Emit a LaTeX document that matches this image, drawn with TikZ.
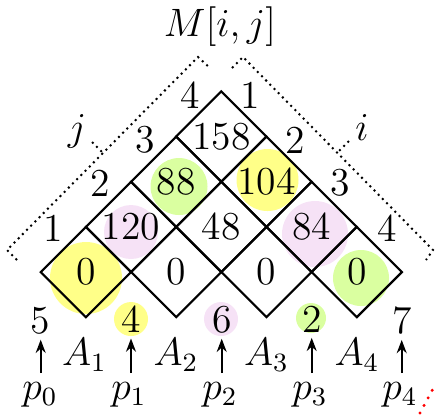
\documentclass[tikz,border=0pt]{standalone}
\usetikzlibrary{shapes.geometric,arrows.meta}
\definecolor{cy}{RGB}{255,255,136}
\definecolor{cg}{RGB}{218,255,160}
\definecolor{cp}{RGB}{246,226,246}
\begin{document}
\begin{tikzpicture}[x=0.30303pt,y=-0.30303pt,
  every node/.style={inner sep=0pt,outer sep=0pt,font=\fontsize{12}{14}\selectfont},
  cell/.style={diamond,draw,line width=0.65pt,minimum width=27.36pt,minimum height=27.36pt,inner sep=0pt},
  arr/.style={-{Stealth[length=4pt,width=3pt]},line width=0.65pt,shorten <=2.9pt,shorten >=1.7pt},
  brk/.style={line width=0.6pt,dash pattern=on 0.6pt off 1.2pt}]
\useasboundingbox (0,0) rectangle (435,415);
% highlight discs
\fill[cy] (86,278) circle (36);
\fill[cp] (131,232) circle (27);
\fill[cg] (179,186.5) circle (28.5);
\fill[cy] (267.5,180) circle (31);
\fill[cp] (315,234) circle (33);
\fill[cg] (361,278) circle (28);
\fill[cy] (131,319) circle (17);
\fill[cp] (221,319) circle (17);
\fill[cg] (311,318) circle (15);
% cells
\node[cell] (c11) at (85.9,272) {0};
\node[cell] (c22) at (176.2,272) {0};
\node[cell] (c33) at (266.5,272) {0};
\node[cell] (c44) at (356.8,272) {0};
\node[cell] (c12) at (131.0,226.9) {120};
\node[cell] (c23) at (221.3,226.9) {48};
\node[cell] (c34) at (311.6,226.9) {84};
\node[cell] (c13) at (176.2,181.7) {88};
\node[cell] (c24) at (266.5,181.7) {104};
\node[cell] (c14) at (221.3,136.5) {158};
% index labels
\node (j1) at (53,228) {1};
\node (j2) at (100,183) {2};
\node (j3) at (145,140) {3};
\node (j4) at (190,95) {4};
\node (i1) at (250,95) {1};
\node (i2) at (295,140) {2};
\node (i3) at (340,183) {3};
\node (i4) at (387,228) {4};
\node (jl) at (77,131) {$j$};
\node (il) at (362,127.5) {$i$};
\node (M) at (220,27) {$M[i,j]$};
% brackets
\draw[brk] (17,260) -- (7,250) -- (198,57) -- (210,68);
\draw[brk] (232,68) -- (243,57) -- (433,250) -- (426,260);
\draw[brk] (92,142) -- (103.5,153.5);
\draw[brk] (349,141) -- (338,152);
% dimensions
\node (n0) at (40.7,320.5) {5};
\node (n1) at (131,319.5) {4};
\node (n2) at (221.7,319.5) {6};
\node (n3) at (311.7,319) {2};
\node (n4) at (401.7,320.5) {7};
\node (a1) at (84.5,355) {$A_1$};
\node (a2) at (176,355) {$A_2$};
\node (a3) at (266.5,355) {$A_3$};
\node (a4) at (357,355) {$A_4$};
\node (p0) at (40,395) {$p_0$};
\node (p1) at (129,395) {$p_1$};
\node (p2) at (220,395) {$p_2$};
\node (p3) at (310,395) {$p_3$};
\node (p4) at (400,395) {$p_4$};
\foreach \k in {0,...,4}{
  \draw[arr] (n\k.south |- p\k.north) -- (n\k.south);
}
\draw[red,line width=1pt,line cap=round,dash pattern=on 0pt off 2.6pt] (420,413) -- (434,387);
\end{tikzpicture}
\end{document}
